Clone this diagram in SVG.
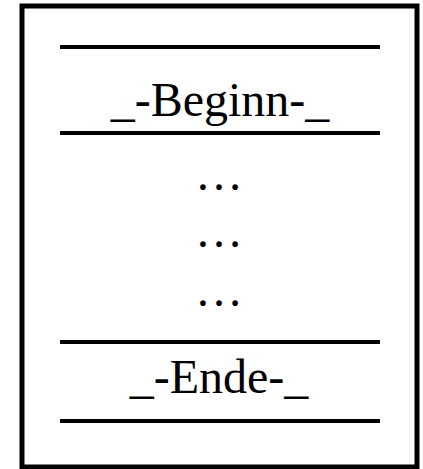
<svg xmlns="http://www.w3.org/2000/svg" width="423" height="469" viewBox="0 0 423 469">
<style>
.frame{fill:#fff;stroke:#000;stroke-width:5}
.sep{stroke:#000;stroke-width:4}
.t{font-family:"Liberation Serif","Times New Roman",serif;font-size:48px;fill:#000;text-anchor:middle}
</style>
<rect width="423" height="469" fill="#fff"/>
<g id="frame">
<rect class="frame" x="22" y="6" width="395" height="461"/>
</g>
<g id="lines">
<line class="sep" x1="60" y1="47" x2="380" y2="47"/>
<line class="sep" x1="60" y1="133" x2="380" y2="133"/>
<line class="sep" x1="60" y1="342" x2="380" y2="342"/>
<line class="sep" x1="60" y1="421" x2="380" y2="421"/>
</g>
<g id="begin"><text class="t" x="220" y="116">_-Beginn-_</text></g>
<g id="dots1"><text class="t" x="219" y="190">…</text></g>
<g id="dots2"><text class="t" x="219" y="247">…</text></g>
<g id="dots3"><text class="t" x="219" y="306">…</text></g>
<g id="end"><text class="t" x="219" y="393">_-Ende-_</text></g>
</svg>
